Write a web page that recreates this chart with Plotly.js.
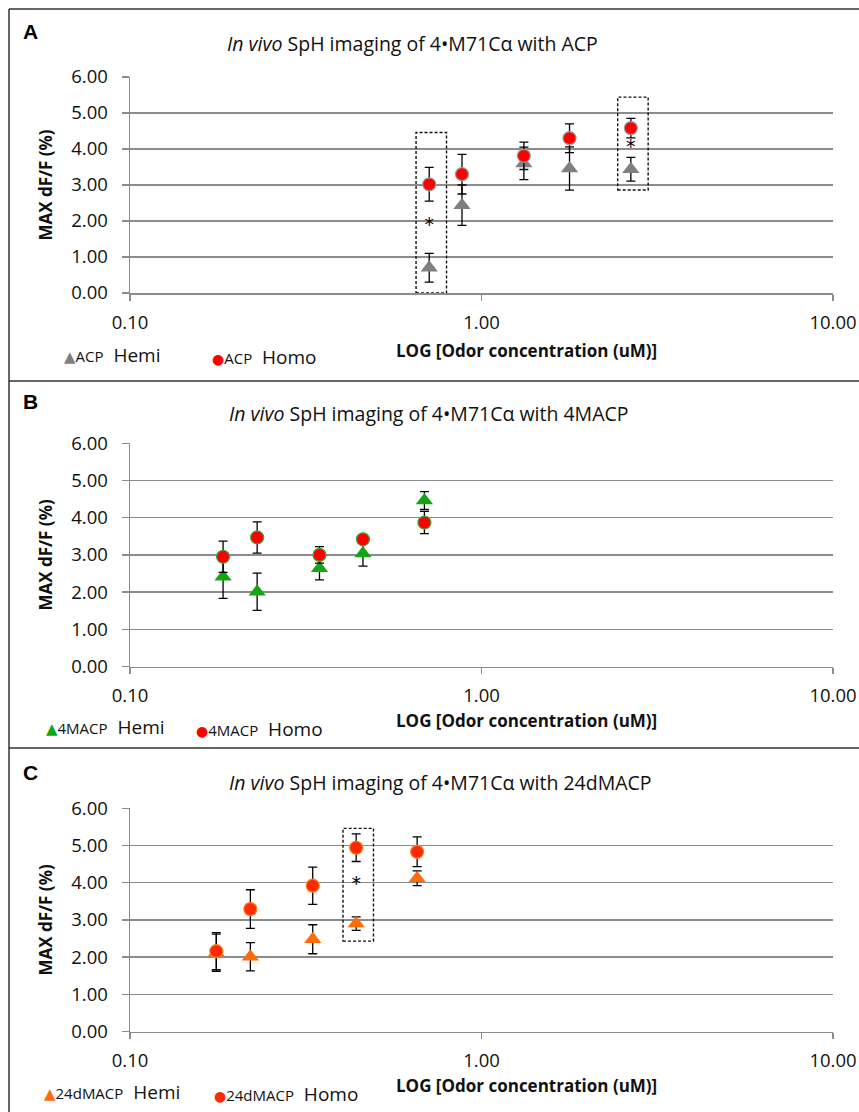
<!DOCTYPE html>
<html><head><meta charset="utf-8">
<script src="https://cdn.plot.ly/plotly-3.0.1.min.js"></script>
<style>html,body{margin:0;padding:0;background:#fff}</style>
</head><body><div id="chart" style="width:859px;height:1112px"></div>
<script>
// ---------- data ----------
const xTickVals = [0.1, 1, 10];
const xTickLabels = ["0.10", "1.00", "10.00"];
const yTickVals = [0, 1, 2, 3, 4, 5, 6];
const yTickLabels = ["0.00", "1.00", "2.00", "3.00", "4.00", "5.00", "6.00"];

const panelTitles = ["ACP", "4MACP", "24dMACP"];
const panelLetters = ["A", "B", "C"];

// Panel A - ACP
const concA = [0.71, 0.88, 1.32, 1.78, 2.66];
const hemiA = [0.70, 2.44, 3.60, 3.46, 3.44];
const hemiAErr = [0.40, 0.56, 0.45, 0.60, 0.33];
const homoA = [3.02, 3.30, 3.81, 4.30, 4.58];
const homoAErr = [0.47, 0.55, 0.38, 0.40, 0.27];
const sigA = [0, 4];              // indices marked with *
const sigABoxLow = [0.00, 2.86];
const sigABoxHigh = [4.46, 5.44];

// Panel B - 4MACP
const concB = [0.184, 0.230, 0.346, 0.460, 0.688];
const hemiB = [2.41, 2.01, 2.64, 3.04, 4.46];
const hemiBErr = [0.58, 0.50, 0.31, 0.34, 0.24];
const homoB = [2.95, 3.47, 3.00, 3.42, 3.87];
const homoBErr = [0.42, 0.42, 0.22, 0.10, 0.30];
const sigB = [];
const sigBBoxLow = [];
const sigBBoxHigh = [];

// Panel C - 24dMACP
const concC = [0.176, 0.220, 0.331, 0.440, 0.656];
const hemiC = [2.12, 2.01, 2.48, 2.90, 4.12];
const hemiCErr = [0.50, 0.38, 0.39, 0.18, 0.20];
const homoC = [2.16, 3.29, 3.92, 4.94, 4.83];
const homoCErr = [0.50, 0.52, 0.50, 0.37, 0.40];
const sigC = [3];
const sigCBoxLow = [2.43];
const sigCBoxHigh = [5.46];

// ---------- layout helpers ----------
const W = 859, H = 1112;
const px = v => v / W;
const py = v => 1 - v / H;

const FONT = "Open Sans, Lato, sans-serif";
const GRID = "#8c8c8c";

const panels = [
  {conc: concA, hemi: hemiA, hemiErr: hemiAErr, homo: homoA, homoErr: homoAErr,
   sig: sigA, boxLow: sigABoxLow, boxHigh: sigABoxHigh,
   hemiColor: "#7f7f7f", homoColor: "#ff0000", homoLine: "#9a9a9a",
   top: 77, bottom: 293, titleY: 44, letterY: 31, xTitleY: 350, legendY: 355},
  {conc: concB, hemi: hemiB, hemiErr: hemiBErr, homo: homoB, homoErr: homoBErr,
   sig: sigB, boxLow: sigBBoxLow, boxHigh: sigBBoxHigh,
   hemiColor: "#14a514", homoColor: "#ff0000", homoLine: "#3aa83a",
   top: 443.3, bottom: 666.5, titleY: 413, letterY: 402, xTitleY: 720, legendY: 727},
  {conc: concC, hemi: hemiC, hemiErr: hemiCErr, homo: homoC, homoErr: homoCErr,
   sig: sigC, boxLow: sigCBoxLow, boxHigh: sigCBoxHigh,
   hemiColor: "#ff6a0a", homoColor: "#ff2a00", homoLine: "#ff7a1a",
   top: 808.3, bottom: 1031.5, titleY: 782, letterY: 772, xTitleY: 1085, legendY: 1092}
];

const traces = [];
const shapes = [];
const annotations = [];
const layout = {
  width: W, height: H,
  margin: {l: 0, r: 0, t: 0, b: 0},
  paper_bgcolor: "#fff", plot_bgcolor: "#fff",
  showlegend: false,
  font: {family: FONT, color: "#111"}
};

panels.forEach((p, k) => {
  const sfx = k === 0 ? "" : String(k + 1);
  const xa = "x" + sfx, ya = "y" + sfx;
  const name = panelTitles[k];

  traces.push({
    type: "scatter", mode: "markers", name: name + " Hemi",
    x: p.conc, y: p.hemi, xaxis: xa, yaxis: ya,
    marker: {symbol: "triangle-up", size: 15, color: p.hemiColor, line: {width: 0}},
    error_y: {type: "data", array: p.hemiErr, visible: true, color: "#000", thickness: 1.3, width: 4.5}
  });
  traces.push({
    type: "scatter", mode: "markers", name: name + " Homo",
    x: p.conc, y: p.homo, xaxis: xa, yaxis: ya,
    marker: {symbol: "circle", size: 13, color: p.homoColor, line: {width: 1.2, color: p.homoLine}},
    error_y: {type: "data", array: p.homoErr, visible: true, color: "#000", thickness: 1.3, width: 4.5}
  });
  if (p.sig.length) {
    traces.push({
      type: "scatter", mode: "text", name: "significance",
      x: p.sig.map(i => p.conc[i]),
      y: p.sig.map(i => (p.hemi[i] + p.homo[i]) / 2),
      text: p.sig.map(() => "*"),
      textposition: "middle center",
      textfont: {size: 19, color: "#000", family: "DejaVu Sans"},
      xaxis: xa, yaxis: ya, hoverinfo: "skip"
    });
    p.sig.forEach((i, j) => {
      shapes.push({
        type: "rect", xref: xa, yref: ya,
        x0: p.conc[i] / 1.09, x1: p.conc[i] * 1.12,
        y0: p.boxLow[j], y1: p.boxHigh[j],
        line: {color: "#111", width: 1.4, dash: "3px,2px"}, fillcolor: "rgba(0,0,0,0)"
      });
    });
  }

  layout["xaxis" + sfx] = {
    type: "log", domain: [px(130), px(833)], range: [-1, 1], anchor: ya,
    tickvals: xTickVals, ticktext: xTickLabels,
    showgrid: false, zeroline: false,
    showline: true, linecolor: GRID, linewidth: 1.5,
    ticks: "outside", ticklen: 6, tickcolor: GRID, tickwidth: 1.2,
    ticklabelstandoff: 6,
    tickfont: {family: FONT, size: 18.5, color: "#111"}
  };
  layout["yaxis" + sfx] = {
    domain: [py(p.bottom), py(p.top)], range: [0, 6], anchor: xa,
    tickvals: yTickVals, ticktext: yTickLabels,
    showgrid: true, gridcolor: GRID, gridwidth: 1.5, zeroline: false,
    showline: true, linecolor: GRID, linewidth: 1.5,
    ticks: "outside", ticklen: 7, tickcolor: GRID, tickwidth: 1.2,
    ticklabelstandoff: 10,
    tickfont: {family: FONT, size: 18.5, color: "#111"},
    title: {text: "<b>MAX dF/F (%)</b>", font: {family: FONT, size: 17, color: "#111"}, standoff: 14}
  };

  const titleText = "<i>In vivo</i> SpH imaging of 4•M71Cα with " + name;
  if (k === 0) {
    layout.title = {text: titleText, x: px(227), xanchor: "left", xref: "paper",
      y: py(p.titleY), yanchor: "middle", yref: "paper",
      font: {family: FONT, size: 19.5, color: "#111"}};
  } else {
    annotations.push({text: titleText, xref: "paper", yref: "paper",
      x: px(227), xanchor: "left", y: py(p.titleY), yanchor: "middle", showarrow: false,
      font: {family: FONT, size: 19.5, color: "#111"}});
  }
  annotations.push({text: "<b>" + panelLetters[k] + "</b>", xref: "paper", yref: "paper",
    x: px(30), y: py(p.letterY), xanchor: "center", yanchor: "middle", showarrow: false,
    font: {family: "Liberation Sans, Arial, sans-serif", size: 21, color: "#000"}});
  annotations.push({text: "<b>LOG [Odor concentration (uM)]</b>", xref: "paper", yref: "paper",
    x: px(526), y: py(p.xTitleY), xanchor: "center", yanchor: "middle", showarrow: false,
    font: {family: FONT, size: 17, color: "#111"}});
  const legStart = [62, 44, 42][k];
  const legSecond = [210, 194, 212][k];
  annotations.push({
    text: "<span style='color:" + p.hemiColor + ";font-size:15px;font-family:DejaVu Sans'>▲</span><span style='font-size:15px'>" + name + "</span>  Hemi",
    xref: "paper", yref: "paper", x: px(legStart), y: py(p.legendY), xanchor: "left", yanchor: "middle",
    showarrow: false, font: {family: FONT, size: 19, color: "#111"}});
  annotations.push({
    text: "<span style='color:" + p.homoColor + ";font-size:14px;font-family:DejaVu Sans'>●</span><span style='font-size:15px'>" + name + "</span>  Homo",
    xref: "paper", yref: "paper", x: px(legSecond), y: py(p.legendY + 2), xanchor: "left", yanchor: "middle",
    showarrow: false, font: {family: FONT, size: 19, color: "#111"}});
});

// figure frame and panel separators
const frame = {color: "#333", width: 1.5};
shapes.push({type: "line", xref: "paper", yref: "paper", x0: px(9), x1: 1, y0: py(9), y1: py(9), line: frame});
shapes.push({type: "line", xref: "paper", yref: "paper", x0: px(9), x1: px(9), y0: py(9), y1: 0, line: frame});
shapes.push({type: "line", xref: "paper", yref: "paper", x0: px(9), x1: 1, y0: py(381), y1: py(381), line: frame});
shapes.push({type: "line", xref: "paper", yref: "paper", x0: px(9), x1: 1, y0: py(748), y1: py(748), line: frame});

layout.shapes = shapes;
layout.annotations = annotations;

Plotly.newPlot("chart", traces, layout, {staticPlot: true, displayModeBar: false});
</script>
</body></html>
